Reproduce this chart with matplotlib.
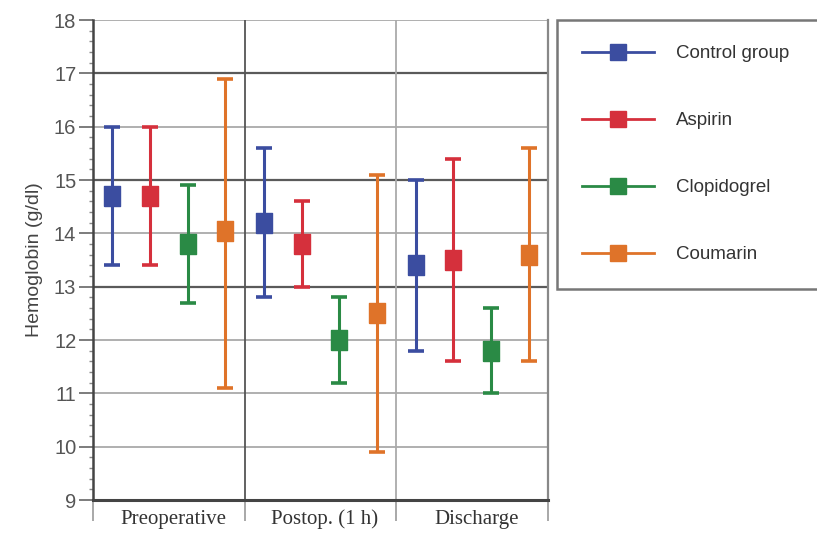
import numpy as np
import matplotlib.pyplot as plt
from matplotlib.lines import Line2D

periods = ["Preoperative", "Postop. (1 h)", "Discharge"]
groups = ["Control group", "Aspirin", "Clopidogrel", "Coumarin"]
colors = ["#3b4da0", "#d5303c", "#2a8a45", "#df7329"]

# mean, lower, upper per group, one entry per period
means = [[14.7, 14.2, 13.4],
         [14.7, 13.8, 13.5],
         [13.8, 12.0, 11.8],
         [14.05, 12.5, 13.6]]
lows = [[13.4, 12.8, 11.8],
        [13.4, 13.0, 11.6],
        [12.7, 11.2, 11.0],
        [11.1, 9.9, 11.6]]
highs = [[16.0, 15.6, 15.0],
         [16.0, 14.6, 15.4],
         [14.9, 12.8, 12.6],
         [16.9, 15.1, 15.6]]

plt.rcParams['font.family'] = ['Liberation Sans', 'DejaVu Sans']

fig = plt.figure(figsize=(8.17, 5.44), dpi=100)
ax = fig.add_axes([93/817, 1-500/544, 455/817, 480/544])

rect = [(-0.75, -1), (0.75, -1), (0.75, 1), (-0.75, 1), (-0.75, -1)]
centers = np.arange(len(periods)) + 0.5
for i, g in enumerate(groups):
    x = centers + (i - 1.5) * 0.248
    m = np.array(means[i])
    yerr = [m - np.array(lows[i]), np.array(highs[i]) - m]
    ax.errorbar(x, m, yerr=yerr, fmt='none', ecolor=colors[i], elinewidth=2.2,
                capsize=6, capthick=2.6, zorder=3)
    ax.plot(x, m, linestyle='none', marker=rect, markersize=15,
            color=colors[i], zorder=4)

ax.set_xlim(0, 3)
ax.set_ylim(9, 18)

# horizontal grid
for yv in range(10, 19):
    if yv in (13, 15, 17):
        ax.axhline(yv, color='#5a5a5a', lw=1.6, zorder=1)
    else:
        ax.axhline(yv, color='#9a9a9a', lw=1.1, zorder=1)
ax.axvline(1, color='#555555', lw=1.3, zorder=1)
ax.axvline(2, color='#aaaaaa', lw=1.3, zorder=1)

ax.spines['top'].set_visible(False)
ax.spines['right'].set_color('#888888')
ax.spines['right'].set_linewidth(1.6)
ax.spines['left'].set_color('#444444')
ax.spines['left'].set_linewidth(1.8)
ax.spines['bottom'].set_color('#444444')
ax.spines['bottom'].set_linewidth(2.2)

ax.set_yticks(np.arange(9, 19))
ax.set_yticks(np.arange(9, 18.01, 0.2), minor=True)
ax.tick_params(axis='y', which='major', length=10, width=1.2, color='#666666',
               labelsize=14.5, labelcolor='#555555', pad=2)
ax.tick_params(axis='y', which='minor', length=3, width=1, color='#888888')

ax.set_xticks([0, 1, 2, 3])
ax.set_xticklabels([])
ax.set_xticks(centers + 0.03, minor=True)
ax.set_xticklabels(periods, minor=True, family='Liberation Serif', fontsize=15,
                   color='#333333')
ax.tick_params(axis='x', which='major', length=15, width=1.2, color='#999999')
ax.tick_params(axis='x', which='minor', length=0, pad=7)

ax.set_ylabel("Hemoglobin (g/dl)", fontsize=14, color='#444444', labelpad=8)

handles = [Line2D([], [], color=c, lw=2, marker='s', markersize=12) for c in colors]
leg = fig.legend(handles, groups, loc='upper left',
                 bbox_to_anchor=(557/817, 1-20/544, 262/817, 0.0), mode='expand',
                 borderaxespad=0, fontsize=13.5, labelspacing=2.66, borderpad=1.35,
                 handlelength=3.8, handletextpad=1.2, fancybox=False, frameon=True)
leg.get_frame().set_edgecolor('#555555')
leg.get_frame().set_linewidth(1.8)
for t in leg.get_texts():
    t.set_color('#333333')

fig.savefig("out.png", dpi=100)
